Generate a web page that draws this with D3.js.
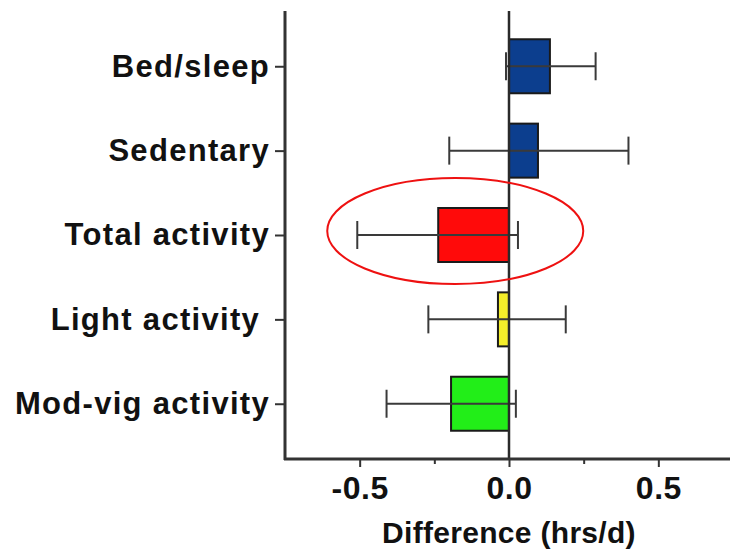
<!DOCTYPE html>
<html>
<head>
<meta charset="utf-8">
<script src="https://cdn.jsdelivr.net/npm/d3@7"></script>
<style>
  body { margin: 0; background: #fff; }
  text { font-family: "Liberation Sans", Arial, sans-serif; font-weight: bold; fill: #111; }
</style>
</head>
<body>
<svg id="chart" width="730" height="554"></svg>
<script>
// data
var categories = ["Bed/sleep", "Sedentary", "Total activity", "Light activity ", "Mod-vig activity"];
var means  = [0.137, 0.097, -0.237, -0.037, -0.194];
var lows   = [-0.01, -0.20, -0.508, -0.27, -0.41];
var highs  = [0.29, 0.40, 0.03, 0.19, 0.023];
var colors = ["#0c3e8e", "#0c3e8e", "#ff0a0a", "#f4ee2a", "#22ee18"];
var xTicks = [-0.5, 0.0, 0.5];
var xMinorTicks = [-0.25, 0.25];
var highlighted = "Total activity";

var svg = d3.select("#chart");
var plotLeft = 285, plotRight = 733, plotTop = 11, plotBottom = 459;

var x = d3.scaleLinear().domain([-0.75, 0.75]).range([plotLeft, plotRight]);
var y = d3.scalePoint().domain(categories).range([plotTop, plotBottom]).padding(0.655);
var barH = 54, capH = 28;

var rows = categories.map(function(c, i) {
    return { name: c, mean: means[i], lo: lows[i], hi: highs[i], color: colors[i] };
});

// bars
svg.append("g").selectAll("rect")
    .data(rows)
    .enter().append("rect")
    .attr("x", function(d) { return x(Math.min(0, d.mean)); })
    .attr("y", function(d) { return y(d.name) - barH / 2; })
    .attr("width", function(d) { return Math.abs(x(d.mean) - x(0)); })
    .attr("height", barH)
    .attr("fill", function(d) { return d.color; })
    .attr("stroke", "#1a1a1a")
    .attr("stroke-width", 2);

// error bars
var err = svg.append("g").attr("stroke", "#3a3a3a").attr("stroke-width", 2);
err.selectAll("line.ci")
    .data(rows)
    .enter().append("line")
    .attr("class", "ci")
    .attr("x1", function(d) { return x(d.lo); })
    .attr("x2", function(d) { return x(d.hi); })
    .attr("y1", function(d) { return y(d.name); })
    .attr("y2", function(d) { return y(d.name); });
["lo", "hi"].forEach(function(k) {
    err.selectAll("line.cap-" + k)
        .data(rows)
        .enter().append("line")
        .attr("class", "cap-" + k)
        .attr("x1", function(d) { return x(d[k]); })
        .attr("x2", function(d) { return x(d[k]); })
        .attr("y1", function(d) { return y(d.name) - capH / 2; })
        .attr("y2", function(d) { return y(d.name) + capH / 2; });
});

// zero line
svg.append("line")
    .attr("x1", x(0)).attr("x2", x(0))
    .attr("y1", plotTop).attr("y2", plotBottom)
    .attr("stroke", "#2a2a2a")
    .attr("stroke-width", 2.5);

// y axis
var yAxis = svg.append("g")
    .attr("transform", "translate(" + plotLeft + ",0)")
    .call(d3.axisLeft(y).tickSize(10).tickPadding(5));
yAxis.select(".domain").remove();
yAxis.selectAll(".tick line").attr("stroke", "#333").attr("stroke-width", 2);
yAxis.selectAll(".tick text")
    .style("font-size", "31px")
    .style("letter-spacing", "1.3px")
    .style("white-space", "pre")
    .attr("fill", "#111");
svg.append("line")
    .attr("x1", plotLeft).attr("x2", plotLeft)
    .attr("y1", plotTop).attr("y2", plotBottom + 1)
    .attr("stroke", "#333").attr("stroke-width", 3);

// x axis
var xAxis = svg.append("g")
    .attr("transform", "translate(0," + plotBottom + ")")
    .call(d3.axisBottom(x).tickValues(xTicks).tickSize(8).tickPadding(9)
        .tickFormat(function(d) { return d.toFixed(1); }));
xAxis.select(".domain").remove();
xAxis.selectAll(".tick line").attr("stroke", "#333").attr("stroke-width", 2);
xAxis.selectAll(".tick text").style("font-size", "32px").style("letter-spacing", "0.5px").attr("fill", "#111");
svg.append("g")
    .attr("transform", "translate(0," + plotBottom + ")")
    .call(d3.axisBottom(x).tickValues(xMinorTicks).tickSize(5).tickFormat(""))
    .call(function(g) { g.select(".domain").remove(); })
    .selectAll(".tick line").attr("stroke", "#333").attr("stroke-width", 2);
svg.append("line")
    .attr("x1", plotLeft - 1).attr("x2", 730)
    .attr("y1", plotBottom).attr("y2", plotBottom)
    .attr("stroke", "#333").attr("stroke-width", 3);

svg.append("text")
    .attr("x", x(0))
    .attr("y", 543)
    .attr("text-anchor", "middle")
    .style("font-size", "30px")
    .style("letter-spacing", "0.3px")
    .text("Difference (hrs/d)");

// red ellipse around the highlighted row
var hl = rows.filter(function(d) { return d.name === highlighted; })[0];
svg.append("ellipse")
    .attr("cx", x(-0.18))
    .attr("cy", y(hl.name) - 4)
    .attr("rx", 128)
    .attr("ry", 53)
    .attr("fill", "none")
    .attr("stroke", "#ee1111")
    .attr("stroke-width", 2);
</script>
</body>
</html>
